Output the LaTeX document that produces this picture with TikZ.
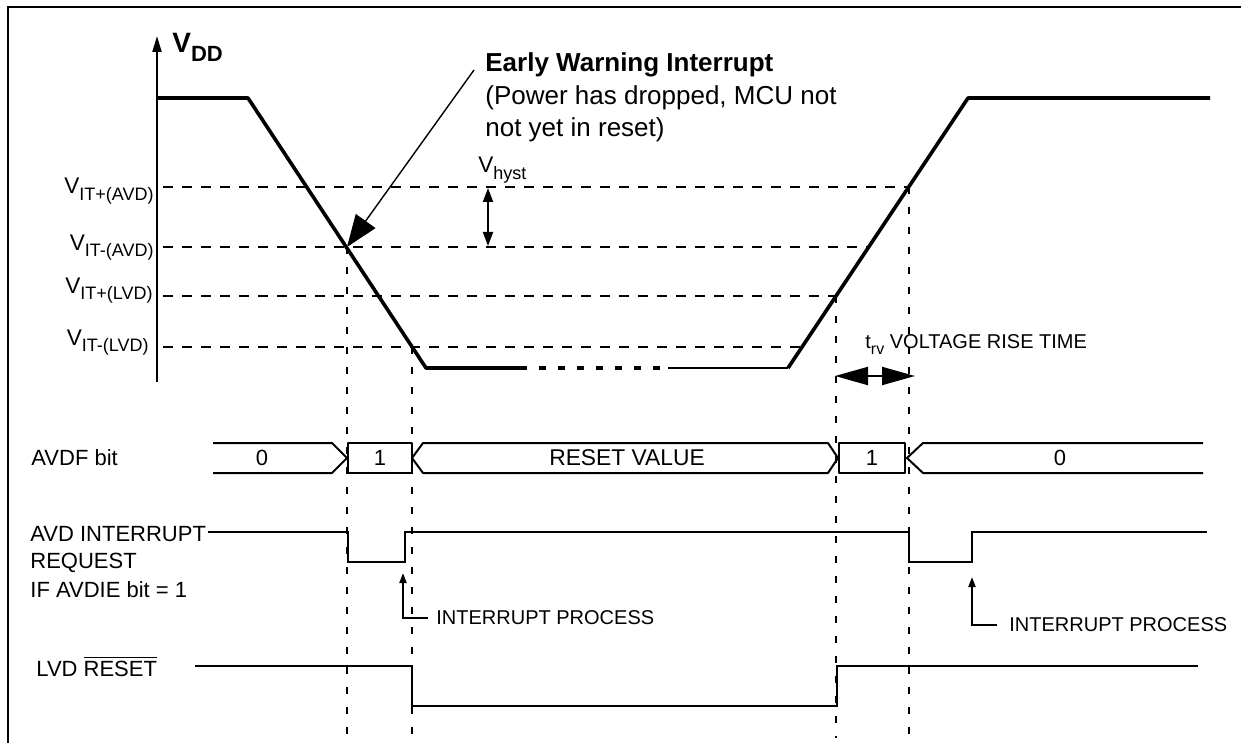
\documentclass[tikz,border=0pt]{standalone}
\usepackage{fontspec}
\setmainfont{Liberation Sans}
\usetikzlibrary{arrows.meta,positioning}
\newcommand{\lowsub}[2][9]{\raisebox{-0.3em}{\fontsize{#1}{#1}\selectfont #2}}

\begin{document}
\begin{tikzpicture}[x=0.5pt, y=-0.5pt,
  lbl/.style={font=\fontsize{11}{13}\selectfont, inner sep=0pt},
  vlbl/.style={font=\fontsize{11.3}{13}\selectfont, inner sep=0pt},
  small/.style={font=\fontsize{10}{12}\selectfont, inner sep=0pt},
  note/.style={font=\fontsize{13}{15}\selectfont, inner sep=0pt, anchor=base west},
  sig/.style={line width=1.8pt, line join=round},
  hguide/.style={line width=0.8pt, dash pattern=on 5pt off 4.5pt},
  vguide/.style={line width=0.8pt, dash pattern=on 3.5pt off 6.5pt},
  bus/.style={line width=1pt, line join=round},
  wave/.style={line width=1pt},
  callout/.style={line width=0.7pt, -{Triangle[length=16pt,width=12pt]}},
  hyst/.style={line width=1pt, {Triangle[length=7pt,width=5pt]}-{Triangle[length=7pt,width=5pt]}},
  rise/.style={line width=1pt, {Triangle[length=16.5pt,width=9pt]}-{Triangle[length=16.5pt,width=9pt]}},
  ipa/.style={line width=1pt, -{Triangle[length=5pt,width=3.5pt]}}]
\useasboundingbox (0,0) rectangle (1241,743);
\draw[line width=1pt] (8,743) -- (8,7) -- (1241,7);

% supply axis and levels
\draw[line width=1pt, -{Triangle[length=8pt,width=4.5pt]}] (157,382) -- (157,36);
\node[anchor=base west, inner sep=0pt, font=\bfseries\fontsize{14}{16}\selectfont] (vdd) at (172,53) {V\lowsub[11]{DD}};
\node[vlbl, anchor=base east] (itpa) at (154,194) {V\lowsub{IT+(AVD)}};
\node[vlbl, anchor=base east] (itma) at (154,250) {V\lowsub{IT-(AVD)}};
\node[vlbl, anchor=base east] (itpl) at (153,293) {V\lowsub{IT+(LVD)}};
\node[vlbl, anchor=base east] (itml) at (149,345) {V\lowsub{IT-(LVD)}};

\coordinate (fa) at (347,247);
\coordinate (fl) at (412,347);
\coordinate (rl) at (836,296);
\coordinate (ra) at (909,187);

\draw[hguide] (163,187) -- (ra);
\draw[hguide] (163,247) -- (869,247);
\draw[hguide] (163,296) -- (rl);
\draw[hguide] (163,347) -- (802,347);
\draw[vguide] (fa) -- (347,738);
\draw[vguide] (fl) -- (412,743);
\draw[vguide] (rl) -- (836,738);
\draw[vguide] (ra) -- (909,738);

% VDD waveform
\draw[sig] (157,98) -- (248,98) -- (426,368) -- (520,368);
\draw[sig, line width=2pt, dash pattern=on 3.5pt off 6pt] (520,368) -- (668,368);
\draw[sig, line width=1.2pt] (668,368) -- (788,368);
\draw[sig] (788,368) -- (968,98) -- (1210,98);

% annotations
\node[note, font=\bfseries\fontsize{13}{15}\selectfont] (ew1) at (485,72) {Early Warning Interrupt};
\node[note] (ew2) at (485,105) {(Power has dropped, MCU not};
\node[note] (ew3) at (485,137) {not yet in reset)};
\coordinate (ewtail) at (474,70);
\draw[callout] (ewtail) -- (fa);
\node[vlbl, anchor=base west] (vhyst) at (478,173) {V\lowsub{hyst}};
\draw[hyst] (488,188) -- (488,246);
\node[small, anchor=base west] (trv) at (865,348) {t\lowsub[8]{rv} VOLTAGE RISE TIME};
\draw[rise] (835,376) -- (915,376);

% AVDF bit
\node[lbl, anchor=west] (avdf) at (31,458) {AVDF bit};
\draw[bus] (213,443) -- (332,443) -- (347,458) -- (332,473) -- (213,473);
\draw[bus] (348,443) rectangle (412,473);
\draw[bus] (412,458) -- (423,443) -- (828,443) -- (838,458) -- (828,473) -- (423,473) -- cycle;
\draw[bus] (839,443) rectangle (905,473);
\draw[bus] (1203,443) -- (923,443) -- (907,458) -- (923,473) -- (1203,473);
\node[lbl] (b0) at (262,458) {0};
\node[lbl] (b1) at (380,458) {1};
\node[lbl, font=\fontsize{11.4}{13}\selectfont] (brst) at (627,458) {RESET VALUE};
\node[lbl] (b1b) at (872,458) {1};
\node[lbl] (b0b) at (1060,458) {0};

% AVD interrupt request
\node[lbl, anchor=base west] (irq1) at (30,541) {AVD INTERRUPT};
\node[lbl, anchor=base west] (irq2) at (30,568) {REQUEST};
\node[lbl, anchor=base west] (irq3) at (30,597) {IF AVDIE bit = 1};
\draw[wave] (208,532) -- (348,532) -- (348,562) -- (405,562) -- (405,532) -- (909,532) -- (909,562) -- (972,562) -- (972,532) -- (1207,532);
\node[small, anchor=west] (ip1) at (436,618) {INTERRUPT PROCESS};
\draw[ipa] (428,618) -| (403,573);
\node[small, anchor=west] (ip2) at (1009,625) {INTERRUPT PROCESS};
\draw[ipa] (997,625) -| (972,577);

% LVD reset
\node[lbl, anchor=base west] (lvd) at (36,676) {LVD $\overline{\mbox{RESET}}$};
\draw[wave] (195,666) -- (412,666) -- (412,706) -- (837,706) -- (837,666) -- (1198,666);
\end{tikzpicture}
\end{document}
